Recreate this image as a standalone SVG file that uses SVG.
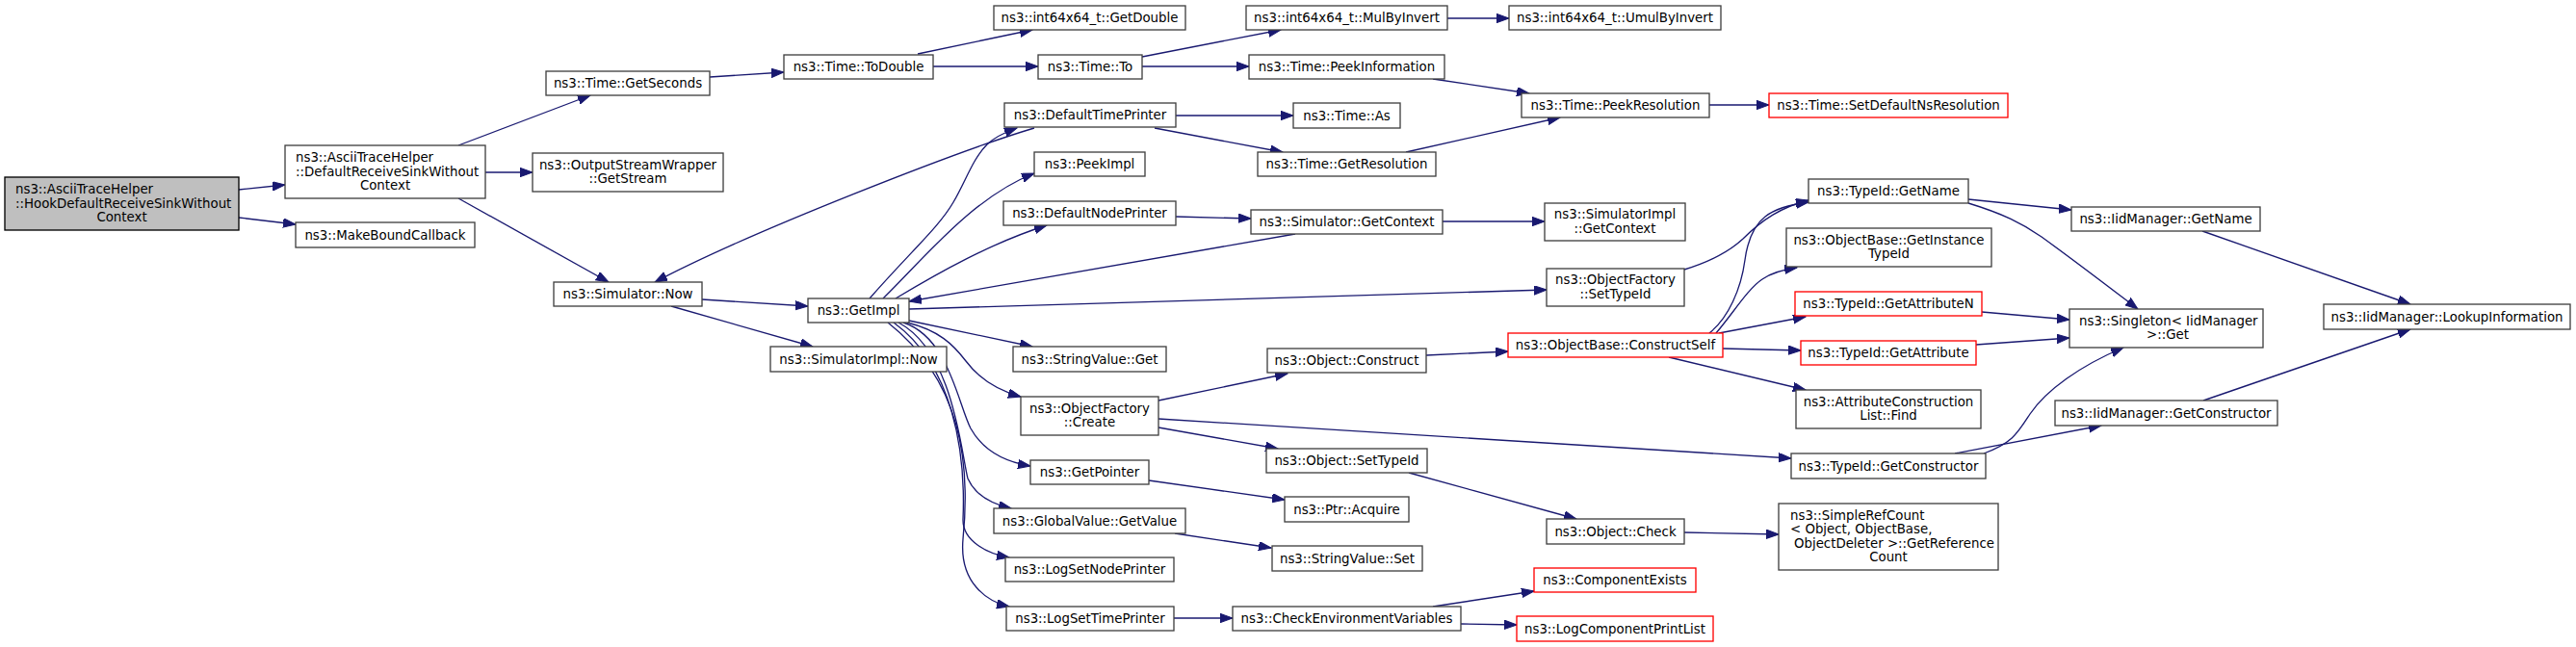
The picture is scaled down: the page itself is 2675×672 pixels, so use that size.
<svg xmlns="http://www.w3.org/2000/svg" width="2675" height="672" viewBox="0 0 2675 672">
<style>
.node rect{fill:#ffffff;stroke:#404040;stroke-width:1.33}
.node.root rect{fill:#bfbfbf;stroke:#000000}
.node.red rect{stroke:#ff0000}
text{font-family:"DejaVu Sans","Liberation Sans",sans-serif;font-size:13.33px;fill:#000000}
.c{text-anchor:middle}
.l{text-anchor:start}
#edges path{fill:none;stroke:#191970;stroke-width:1.33;marker-end:url(#arr)}
</style>
<defs>
<marker id="arr" markerUnits="userSpaceOnUse" viewBox="0 0 14 10" markerWidth="14" markerHeight="10" refX="13" refY="4.7" orient="auto">
<path d="M0,0 L13,4.7 L0,9.4 z" fill="#191970" stroke="#191970" stroke-width="1"/>
</marker>
</defs>
<rect x="0" y="0" width="2675" height="672" fill="#ffffff"/>
<g id="edges">
<path d="M248,197 L296,192"/>
<path d="M248,226 L307,233"/>
<path d="M476,151 L613,99"/>
<path d="M504,179 L553,179"/>
<path d="M476,206 L632,293"/>
<path d="M737,80 L814,75"/>
<path d="M1074,133 C1000,155 780,240 680,293"/>
<path d="M729,311 L839,318"/>
<path d="M697,318 L844,360"/>
<path d="M953,56 L1072,31"/>
<path d="M969,69 L1078,69"/>
<path d="M1186,59 L1330,31"/>
<path d="M1186,69 L1297,69"/>
<path d="M1503,19 L1567,19"/>
<path d="M1488,82 L1588,97"/>
<path d="M1460,158 L1620,122"/>
<path d="M1775,109 L1837,109"/>
<path d="M1221,120 L1343,120"/>
<path d="M1199,133 L1332,158"/>
<path d="M1221,225 L1299,227"/>
<path d="M1498,230 L1604,230"/>
<path d="M1345,243 L944,313"/>
<path d="M944,321 L1606,301"/>
<path d="M903,310 C945,262 975,236 990,210 C1003,188 1010,165 1025,150 C1033,142 1045,137 1056,133"/>
<path d="M917,310 C960,268 1010,205 1074,180"/>
<path d="M930,310 C975,283 1030,252 1087,234"/>
<path d="M944,333 L1072,360"/>
<path d="M942,335 C975,343 990,358 1003,375 C1018,395 1038,406 1060,412"/>
<path d="M938,335 C985,350 995,420 1008,445 C1022,470 1045,480 1070,484"/>
<path d="M933,335 C990,365 998,470 1005,497 C1013,515 1032,524 1050,528"/>
<path d="M928,335 C990,380 1003,470 1000,540 C1000,562 1025,575 1048,579"/>
<path d="M922,335 C998,395 1008,480 1000,560 C996,605 1025,625 1048,630"/>
<path d="M1203,416 L1337,388"/>
<path d="M1203,435 L1860,476"/>
<path d="M1203,444 L1327,466"/>
<path d="M1193,499 L1334,519"/>
<path d="M1220,554 L1320,569"/>
<path d="M1219,642 L1280,642"/>
<path d="M1481,369 L1566,365"/>
<path d="M1463,491 L1637,539"/>
<path d="M1749,553 L1847,555"/>
<path d="M1488,630 L1593,614"/>
<path d="M1517,648 L1575,649"/>
<path d="M1749,280 C1775,272 1795,262 1810,248 C1830,228 1850,215 1878,208"/>
<path d="M1775,346 C1795,330 1808,300 1812,270 C1818,225 1840,215 1878,210"/>
<path d="M1782,346 C1800,325 1815,300 1830,290 C1840,283 1852,280 1866,278"/>
<path d="M1785,346 L1875,329"/>
<path d="M1789,362 L1870,364"/>
<path d="M1733,371 L1875,405"/>
<path d="M2044,207 L2151,218"/>
<path d="M2044,211 C2080,222 2100,232 2120,246 C2160,275 2195,302 2220,321"/>
<path d="M2058,324 L2149,332"/>
<path d="M2052,358 L2149,351"/>
<path d="M2030,471 L2182,442"/>
<path d="M2060,471 C2090,460 2095,450 2108,430 C2125,405 2160,380 2205,361"/>
<path d="M2287,240 L2503,316"/>
<path d="M2288,416 L2503,342"/>
</g>
<g id="n1" class="node root"><rect x="5" y="184" width="243" height="55"/><text class="l" x="16" y="201">ns3::AsciiTraceHelper</text><text class="l" x="16" y="215.5">::HookDefaultReceiveSinkWithout</text><text class="c" x="126.5" y="230">Context</text></g>
<g id="n2" class="node"><rect x="296" y="151" width="208" height="55"/><text class="l" x="307" y="168">ns3::AsciiTraceHelper</text><text class="l" x="307" y="182.5">::DefaultReceiveSinkWithout</text><text class="c" x="400" y="197">Context</text></g>
<g id="n3" class="node"><rect x="307" y="231" width="186" height="26"/><text class="c" x="400" y="248.5">ns3::MakeBoundCallback</text></g>
<g id="n4" class="node"><rect x="567" y="74" width="170" height="25"/><text class="c" x="652" y="91">ns3::Time::GetSeconds</text></g>
<g id="n5" class="node"><rect x="553" y="159" width="198" height="40"/><text class="c" x="652" y="175.5">ns3::OutputStreamWrapper</text><text class="c" x="652" y="190">::GetStream</text></g>
<g id="n6" class="node"><rect x="575" y="293" width="154" height="25"/><text class="c" x="652" y="310">ns3::Simulator::Now</text></g>
<g id="n7" class="node"><rect x="814" y="57" width="155" height="25"/><text class="c" x="891.5" y="74">ns3::Time::ToDouble</text></g>
<g id="n8" class="node"><rect x="839" y="310" width="105" height="25"/><text class="c" x="891.5" y="327">ns3::GetImpl</text></g>
<g id="n9" class="node"><rect x="800" y="360" width="183" height="26"/><text class="c" x="891.5" y="377.5">ns3::SimulatorImpl::Now</text></g>
<g id="n10" class="node"><rect x="1032" y="6" width="199" height="25"/><text class="c" x="1131.5" y="23">ns3::int64x64_t::GetDouble</text></g>
<g id="n11" class="node"><rect x="1078" y="57" width="108" height="25"/><text class="c" x="1132" y="74">ns3::Time::To</text></g>
<g id="n12" class="node"><rect x="1043" y="107" width="178" height="25"/><text class="c" x="1132" y="124">ns3::DefaultTimePrinter</text></g>
<g id="n13" class="node"><rect x="1074" y="158" width="115" height="25"/><text class="c" x="1131.5" y="175">ns3::PeekImpl</text></g>
<g id="n14" class="node"><rect x="1042" y="209" width="179" height="25"/><text class="c" x="1131.5" y="226">ns3::DefaultNodePrinter</text></g>
<g id="n15" class="node"><rect x="1052" y="360" width="159" height="26"/><text class="c" x="1131.5" y="377.5">ns3::StringValue::Get</text></g>
<g id="n16" class="node"><rect x="1060" y="412" width="143" height="40"/><text class="c" x="1131.5" y="428.5">ns3::ObjectFactory</text><text class="c" x="1131.5" y="443">::Create</text></g>
<g id="n17" class="node"><rect x="1070" y="478" width="123" height="25"/><text class="c" x="1131.5" y="495">ns3::GetPointer</text></g>
<g id="n18" class="node"><rect x="1032" y="528" width="199" height="26"/><text class="c" x="1131.5" y="545.5">ns3::GlobalValue::GetValue</text></g>
<g id="n19" class="node"><rect x="1044" y="579" width="175" height="25"/><text class="c" x="1131.5" y="596">ns3::LogSetNodePrinter</text></g>
<g id="n20" class="node"><rect x="1045" y="630" width="174" height="25"/><text class="c" x="1132" y="647">ns3::LogSetTimePrinter</text></g>
<g id="n21" class="node"><rect x="1294" y="6" width="209" height="25"/><text class="c" x="1398.5" y="23">ns3::int64x64_t::MulByInvert</text></g>
<g id="n22" class="node"><rect x="1297" y="57" width="203" height="25"/><text class="c" x="1398.5" y="74">ns3::Time::PeekInformation</text></g>
<g id="n23" class="node"><rect x="1343" y="107" width="111" height="26"/><text class="c" x="1398.5" y="124.5">ns3::Time::As</text></g>
<g id="n24" class="node"><rect x="1306" y="158" width="185" height="25"/><text class="c" x="1398.5" y="175">ns3::Time::GetResolution</text></g>
<g id="n25" class="node"><rect x="1299" y="218" width="199" height="25"/><text class="c" x="1398.5" y="235">ns3::Simulator::GetContext</text></g>
<g id="n26" class="node"><rect x="1316" y="362" width="165" height="25"/><text class="c" x="1398.5" y="379">ns3::Object::Construct</text></g>
<g id="n27" class="node"><rect x="1315" y="466" width="167" height="25"/><text class="c" x="1398.5" y="483">ns3::Object::SetTypeId</text></g>
<g id="n28" class="node"><rect x="1334" y="516" width="129" height="26"/><text class="c" x="1398.5" y="533.5">ns3::Ptr::Acquire</text></g>
<g id="n29" class="node"><rect x="1321" y="567" width="156" height="26"/><text class="c" x="1399" y="584.5">ns3::StringValue::Set</text></g>
<g id="n30" class="node"><rect x="1280" y="630" width="237" height="25"/><text class="c" x="1398.5" y="647">ns3::CheckEnvironmentVariables</text></g>
<g id="n31" class="node"><rect x="1567" y="6" width="220" height="25"/><text class="c" x="1677" y="23">ns3::int64x64_t::UmulByInvert</text></g>
<g id="n32" class="node"><rect x="1580" y="97" width="195" height="25"/><text class="c" x="1677.5" y="114">ns3::Time::PeekResolution</text></g>
<g id="n33" class="node"><rect x="1604" y="211" width="146" height="39"/><text class="c" x="1677" y="227">ns3::SimulatorImpl</text><text class="c" x="1677" y="241.5">::GetContext</text></g>
<g id="n34" class="node"><rect x="1606" y="279" width="143" height="39"/><text class="c" x="1677.5" y="295">ns3::ObjectFactory</text><text class="c" x="1677.5" y="309.5">::SetTypeId</text></g>
<g id="n35" class="node red"><rect x="1566" y="346" width="223" height="25"/><text class="c" x="1677.5" y="363">ns3::ObjectBase::ConstructSelf</text></g>
<g id="n36" class="node"><rect x="1606" y="539" width="143" height="26"/><text class="c" x="1677.5" y="556.5">ns3::Object::Check</text></g>
<g id="n37" class="node red"><rect x="1593" y="590" width="168" height="25"/><text class="c" x="1677" y="607">ns3::ComponentExists</text></g>
<g id="n38" class="node red"><rect x="1575" y="640" width="204" height="26"/><text class="c" x="1677" y="657.5">ns3::LogComponentPrintList</text></g>
<g id="n39" class="node red"><rect x="1837" y="97" width="248" height="25"/><text class="c" x="1961" y="114">ns3::Time::SetDefaultNsResolution</text></g>
<g id="n40" class="node"><rect x="1878" y="186" width="166" height="25"/><text class="c" x="1961" y="203">ns3::TypeId::GetName</text></g>
<g id="n41" class="node"><rect x="1855" y="237" width="213" height="40"/><text class="c" x="1961.5" y="253.5">ns3::ObjectBase::GetInstance</text><text class="c" x="1961.5" y="268">TypeId</text></g>
<g id="n42" class="node red"><rect x="1864" y="303" width="194" height="25"/><text class="c" x="1961" y="320">ns3::TypeId::GetAttributeN</text></g>
<g id="n43" class="node red"><rect x="1870" y="354" width="182" height="25"/><text class="c" x="1961" y="371">ns3::TypeId::GetAttribute</text></g>
<g id="n44" class="node"><rect x="1865" y="405" width="192" height="40"/><text class="c" x="1961" y="421.5">ns3::AttributeConstruction</text><text class="c" x="1961" y="436">List::Find</text></g>
<g id="n45" class="node"><rect x="1860" y="471" width="202" height="26"/><text class="c" x="1961" y="488.5">ns3::TypeId::GetConstructor</text></g>
<g id="n46" class="node"><rect x="1847" y="523" width="228" height="69"/><text class="l" x="1859" y="539.5">ns3::SimpleRefCount</text><text class="l" x="1859" y="554">&lt; Object, ObjectBase,</text><text class="l" x="1863" y="568.5">ObjectDeleter &gt;::GetReference</text><text class="c" x="1961" y="583">Count</text></g>
<g id="n47" class="node"><rect x="2151" y="215" width="196" height="25"/><text class="c" x="2249" y="232">ns3::IidManager::GetName</text></g>
<g id="n48" class="node"><rect x="2149" y="321" width="201" height="40"/><text class="l" x="2159" y="337.5">ns3::Singleton&lt; IidManager</text><text class="c" x="2251" y="352">&gt;::Get</text></g>
<g id="n49" class="node"><rect x="2134" y="416" width="231" height="26"/><text class="c" x="2249.5" y="433.5">ns3::IidManager::GetConstructor</text></g>
<g id="n50" class="node"><rect x="2413" y="316" width="256" height="26"/><text class="c" x="2541" y="333.5">ns3::IidManager::LookupInformation</text></g>
</svg>
